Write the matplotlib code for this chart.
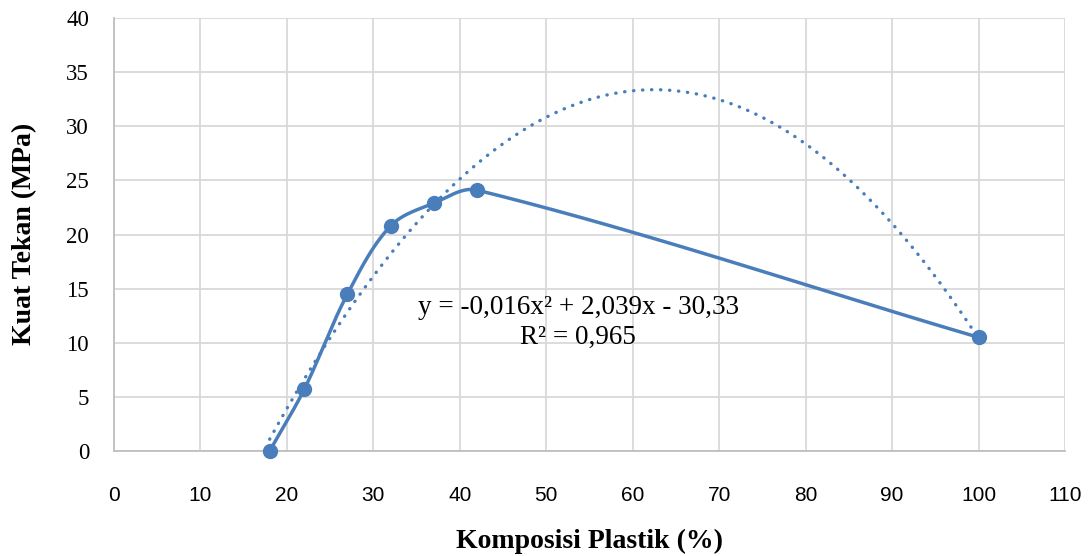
import numpy as np
import matplotlib
matplotlib.use("Agg")
import matplotlib.pyplot as plt

# data
komposisi = [18, 22, 27, 32, 37, 42, 100]
kuat_tekan = [0, 5.7, 14.5, 20.8, 22.9, 24.1, 10.5]
x_ticks = list(range(0, 111, 10))
y_ticks = list(range(0, 41, 5))
eq_line1 = "y = -0,016x² + 2,039x - 30,33"
eq_line2 = "R² = 0,965"

BLUE = "#4a7ebb"
GRID = "#d9d9d9"


def smooth_path(ax, xs, ys, n=40):
    # excel-like smoothed line, built in display space so it looks right on screen
    pts = ax.transData.transform(np.column_stack([xs, ys]))
    out = [pts[0]]
    for i in range(len(pts) - 1):
        p0, p1 = pts[i], pts[i + 1]
        prev = pts[i - 1] if i > 0 else p0
        nxt = pts[i + 2] if i + 2 < len(pts) else p1
        seg = np.linalg.norm(p1 - p0)
        t0 = p1 - prev
        t1 = nxt - p0
        t0 = t0 / np.linalg.norm(t0)
        t1 = t1 / np.linalg.norm(t1)
        c0 = p0 + t0 * seg / 3.0
        c1 = p1 - t1 * seg / 3.0
        t = np.linspace(0, 1, n)[1:, None]
        b = ((1 - t) ** 3) * p0 + 3 * ((1 - t) ** 2) * t * c0 + 3 * (1 - t) * t ** 2 * c1 + t ** 3 * p1
        out.extend(b)
    out = np.array(out)
    return ax.transData.inverted().transform(out)


fig = plt.figure(figsize=(10.9, 5.56), dpi=100)
ax = fig.add_axes([0.1046, 0.1888, 0.8725, 0.7788])

ax.set_xlim(0, 110)
ax.set_ylim(0, 40)
ax.set_xticks(x_ticks, labels=[str(v) for v in x_ticks],
              fontsize=15, family="Liberation Sans")
ax.set_yticks(y_ticks, labels=[str(v) for v in y_ticks],
              fontsize=16.5, family="Liberation Serif")
ax.grid(True, color=GRID, linewidth=1.3, zorder=0)
ax.set_axisbelow(True)
for side in ["top", "right"]:
    ax.spines[side].set_visible(False)
for side in ["left", "bottom"]:
    ax.spines[side].set_color("#bfbfbf")
    ax.spines[side].set_linewidth(1.3)
ax.tick_params(length=0)
ax.tick_params(axis="x", pad=25)
ax.tick_params(axis="y", pad=18)

# polynomial trendline (order 2)
coef = np.polyfit(komposisi, kuat_tekan, 2)
xt = np.linspace(min(komposisi), max(komposisi), 300)
ax.plot(xt, np.polyval(coef, xt), color=BLUE, linewidth=2.4,
        linestyle=(0, (0.1, 2.6)), dash_capstyle="round", zorder=3)

# smoothed data line + markers
sm = smooth_path(ax, komposisi, kuat_tekan)
ax.plot(sm[:, 0], sm[:, 1], color=BLUE, linewidth=2.5, zorder=4,
        solid_capstyle="round")
ax.plot(komposisi, kuat_tekan, linestyle="none", marker="o", markersize=10,
        color=BLUE, zorder=5, clip_on=False)

# trendline label, placed in figure pixels (from top-left)
W, H = 1090, 556
fig.text(578 / W, 1 - 307 / H, eq_line1, fontsize=19.5, family="Liberation Serif",
         ha="center", va="center")
fig.text(578 / W, 1 - 337 / H, eq_line2, fontsize=19.5, family="Liberation Serif",
         ha="center", va="center")

fig.text(590 / W, 1 - 541 / H, "Komposisi Plastik (%)", fontsize=20,
         fontweight="bold", family="Liberation Serif", ha="center", va="center")
fig.text(25 / W, 1 - 234 / H, "Kuat Tekan (MPa)", fontsize=20, rotation=90,
         fontweight="bold", family="Liberation Serif", ha="center", va="center")

fig.savefig("out.png", dpi=100)
